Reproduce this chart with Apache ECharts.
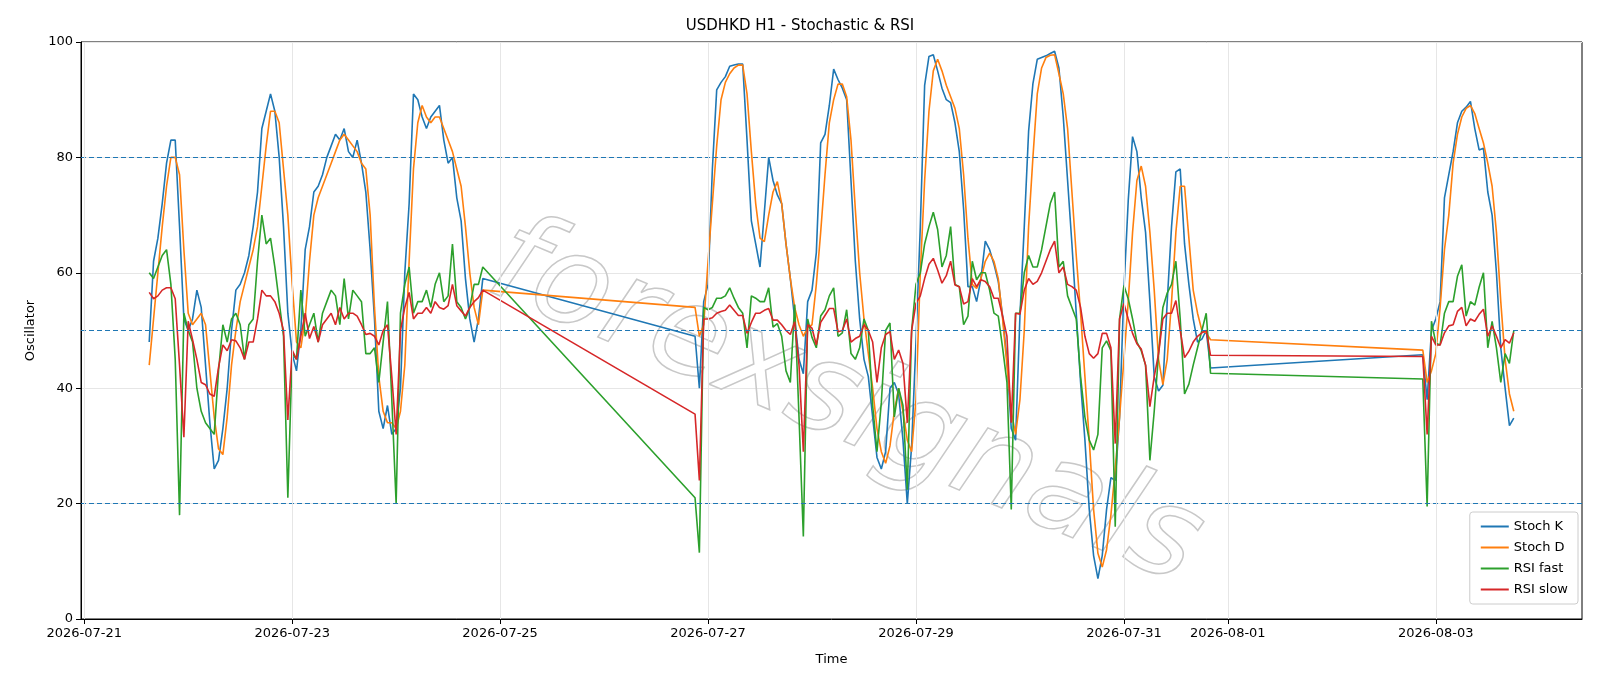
<!DOCTYPE html>
<html>
<head>
<meta charset="UTF-8">
<title>USDHKD H1 - Stochastic & RSI</title>
<style>
  *{margin:0;padding:0;}
  html,body{width:1600px;height:686px;background:#fff;}
  #chart{width:1600px;height:686px;}
</style>
</head>
<body>
<div id="chart"></div>
<script src="https://cdn.jsdelivr.net/npm/echarts@6/dist/echarts.min.js"></script>
<script>
// hourly bars, three trading stretches
var seg1Start = '2026-07-21 15:00', seg2Start = '2026-07-26 21:00', seg3Start = '2026-08-02 21:00';

var stochK1 = [48,62,66,72,79,83,83,68,52,50,52,57,54,44,34,26,27.5,33,40,50,57,58,60,63,68,74,85,88,91,88,80,68,53,46,43,50,64,68,74,75,77,80,82,84,83,85,81,80,83,79,74,64,52,36,33,37,32,33,40,60,72,91,90,87,85,87,88,89,83,79,80,73,69,59,52,48,52,59];
var stochD1 = [44,52,60,68,75,80,80,77,64,53,51,52,53,51,43,35,29.5,28.5,35,44,50,55,58,61,64,68,75,82,88,88,86,78,70,58,48,47,52,62,70,73,75,77,79,81,83,84,83,82,81,79,78,70,54,42,36,34,34,33,36,44,62,78,86,89,87,86,87,87,85,83,81,78,75,68,60,54,51,57];
var rsiFast1 = [60,59,61,63,64,58,45,18,53,50,48,40,36,34,33,32,43,51,48,52,53,51,45,51,52,62,70,65,66,61,55,49,21,46,45,57,49,51,53,48,53,55,57,56,51,59,52,57,56,55,46,46,47,41,48,55,38,20,53,58,61,53,55,55,57,54,58,60,55,56,65,55,54,52,54,58,58,61];
var rsiSlow1 = [56.6,55.5,56,57,57.4,57.4,55.5,44,31.5,51.6,48.4,45,41,40.6,39,38.6,43.6,47.5,46.5,48.4,48.2,47,45,48,48,52,57,56,56,55,53,50,34.5,46.6,45,49,53,48.6,50.7,48,51,52,53,51,54,52,53,53,52.5,51,49.3,49.5,49,47.5,50,51,42,32,50,54,56.6,52,53,53,54,53,55,54,53.7,54.3,58,54.3,53.4,52.5,54,55,55.7,57];

var stochK2 = [49,40,55,58,78,91.7,93,94,95.8,96,96.2,96.2,83,69,65,61,70.5,80,76,73.5,72,65,59,52,45,42.5,55,57,63.5,82.5,84,89,95.3,93.5,92,90,76,62,52,45,42,35,28,26,29,40,41,39,31,20,30,48,68,92.5,97.5,97.8,95,92,90,89.5,86,81,71,57.6,57.6,55,59,65.5,64,61.5,58.5,52.5,45,33,31,52.5,68,84.5,92.8,97,97.3,97.6,98,98.4,95.5,87,76,65,53,41,31,19,11,7,11,19,24.5,24,35,57,72.5,83.6,81,73,67,55,42,39.5,40.5,55,68,77.5,78,65,58,52,48,48.5,50,43.5];
var stochD2 = [54,49,51,62,72,82,90,93,94.5,95.5,96,96,91,81,72,66,65.4,70,74,75.8,72,65,59,54,51,49,50.5,51,58,67,77,86,90,92.7,92.7,90.5,83,71,60,52,46,40,33,29,27,30,36,40,36,31,29,38,60,76,88,95,97,95,92.5,90.5,88.5,85,77,66,58,57.3,59,62,63.4,62,59,52,44,36,32,38,50,68,80,91,95.5,97.3,97.7,97.8,94.5,91,85,74,63,53,42,31,19,11.4,9,12,18,26,35,45,55,67,76,78.5,75,67,57,45,40.6,45,55,67,75,75,66,57,53,50,49.6,48.4];
var rsiFast2 = [21,11.5,54,53.6,54,55.6,55.6,56,57.4,55.6,54,53,47,56,55.6,55,55,57.4,50.6,51.2,49,43,41,54.5,35,14.3,52,48.8,47,52.5,53.6,56,57.4,49,49.6,53.6,46,45,47,52,50,37,29,37.5,50,51.3,35,40,37,22.4,50,58,60,65,68,70.5,67.5,61,63,68,58,57.6,51,52.5,62,58.8,60,60,57,53,52.5,47,41,19,53,53,60,63,61,61,64,68,72,74,61,62,56,54,52,42,35,31,29.3,32,47,48.2,46.5,16,52,57.8,55.5,52,48,46.5,44,27.5,36,46,54,56.5,58,62,52,39,40.7,44,47,50,53,42.6];
var rsiSlow2 = [35.5,24,52,52,52.2,53,53.3,53.5,54.4,53.5,52.6,52.6,49.5,51.4,53,53,53.5,53.8,51.8,51.8,51,50,49.3,51.5,44,29,51,50.4,47.5,51.4,52.6,53.8,53.8,49.8,50,52,48,48.6,49,51,50,48,41,47,49.3,49.8,45,46.6,44.3,34,50,54.7,56,59,61.5,62.5,60.5,58.2,59.5,62,57.9,57.6,54.6,55,59,57.6,58.8,58.5,57.6,55.6,55.6,52.5,49,34,53,52.8,57,59,58,58.5,60,62,64,65.5,60,61,58,57.6,57,54,49,46,45.2,46,49.5,49.5,47,30.4,52,54.7,52,49.5,47.7,46.8,44,36.8,42,46,52,53,53,55.2,50,45.3,46.4,48,49,49.6,50,45.7];

var stochK3 = [45.8,38,50,52,55,73,77,81,86,88,88.7,89.7,85,81.3,81.6,74,70,60,47,40,33.5,34.8];
var stochD3 = [46.6,41,43,46,54,64,70,79,84,87,88.5,89,87.6,85,82.5,79,75,67,55,45,39,36];
var rsiFast3 = [41.6,19.5,51.6,47.8,47.5,53,55,55,59.4,61.4,52.5,55,54.4,57.5,60,47,51.6,47,41,46,44.3,50];
var rsiSlow3 = [45.5,32,49,47.5,47.5,49.6,50.8,51,53.3,54,50.8,52,51.6,52.8,53.7,49,50.8,49,47,48.4,47.8,49.6];

var tickDates = ['2026-07-21','2026-07-23','2026-07-25','2026-07-27','2026-07-29','2026-07-31','2026-08-01','2026-08-03'];
var levels = [20, 50, 80];

function ts(s){ return new Date(s.replace(' ', 'T')).getTime(); }
function pairs(start, vals){
  var t0 = ts(start);
  return vals.map(function(v, i){ return [t0 + i*3600000, v]; });
}
function join(a){ return pairs(seg1Start, a[0]).concat(pairs(seg2Start, a[1]), pairs(seg3Start, a[2])); }

var K = join([stochK1, stochK2, stochK3]);
var D = join([stochD1, stochD2, stochD3]);
var F = join([rsiFast1, rsiFast2, rsiFast3]);
var S = join([rsiSlow1, rsiSlow2, rsiSlow3]);
var ticks = tickDates.map(function(d){ return ts(d + ' 00:00'); });

function fmtDate(v){
  var d = new Date(v);
  function p(n){ return (n < 10 ? '0' : '') + n; }
  return d.getFullYear() + '-' + p(d.getMonth() + 1) + '-' + p(d.getDate());
}

var font = 'DejaVu Sans';
function line(name, data, color){
  return {name:name, type:'line', data:data, showSymbol:false, symbol:'line',
    lineStyle:{color:color, width:1.6}, itemStyle:{color:color}, animation:false, z:3};
}

var chart = echarts.init(document.getElementById('chart'));
chart.setOption({
  animation:false,
  textStyle:{fontFamily:font},
  title:{text:'USDHKD H1 - Stochastic & RSI', left:'center', top:14,
    textStyle:{fontFamily:font, fontSize:15, fontWeight:'normal', color:'#000'}},
  grid:{left:81, right:18, top:42, bottom:67, show:true, borderColor:'#000', borderWidth:1},
  legend:{orient:'vertical', right:22, bottom:82, itemWidth:28, itemHeight:2, itemGap:8,
    padding:[8,10], borderColor:'#ccc', borderWidth:1, borderRadius:3, backgroundColor:'#fff',
    textStyle:{fontFamily:font, fontSize:13, color:'#000'},
    data:['Stoch K','Stoch D','RSI fast','RSI slow']},
  xAxis:{type:'value', min:ts('2026-07-20 23:15'), max:ts('2026-08-04 09:45'),
    name:'Time', nameLocation:'middle', nameGap:34, nameTextStyle:{fontFamily:font, fontSize:13, color:'#000'},
    axisLine:{lineStyle:{color:'#000'}}, splitLine:{show:false},
    axisTick:{customValues:ticks, length:5, lineStyle:{color:'#000'}},
    axisLabel:{customValues:ticks, fontFamily:font, fontSize:13, color:'#000', margin:8, formatter:fmtDate}},
  yAxis:{type:'value', min:0, max:100, interval:20,
    name:'Oscillator', nameLocation:'middle', nameGap:42, nameTextStyle:{fontFamily:font, fontSize:13, color:'#000'},
    axisLine:{show:true, lineStyle:{color:'#000'}}, axisTick:{show:true, length:5, lineStyle:{color:'#000'}},
    axisLabel:{fontFamily:font, fontSize:13, color:'#000', margin:8},
    splitLine:{lineStyle:{color:'#e6e6e6'}}},
  graphic:[{type:'text', left:470, top:200, rotation:-0.4, z:1, silent:true,
    style:{text:'forexsignals', fontFamily:font, fontStyle:'italic', fontSize:125,
      fill:'rgba(255,255,255,0)', stroke:'#c8c8c8', lineWidth:1.5}}],
  series:[
    line('Stoch K', K, '#1f77b4'),
    line('Stoch D', D, '#ff7f0e'),
    line('RSI fast', F, '#2ca02c'),
    line('RSI slow', S, '#d62728'),
    {type:'line', data:[], silent:true, z:2,
      markLine:{symbol:'none', silent:true, label:{show:false}, animation:false,
        data:levels.map(function(v){ return {yAxis:v, lineStyle:{color:'#1f77b4', type:[5,3], width:1.2}}; })
          .concat(ticks.map(function(t){ return {xAxis:t, lineStyle:{color:'#e6e6e6', type:'solid', width:1}}; }))}}
  ]
});
</script>
</body>
</html>
